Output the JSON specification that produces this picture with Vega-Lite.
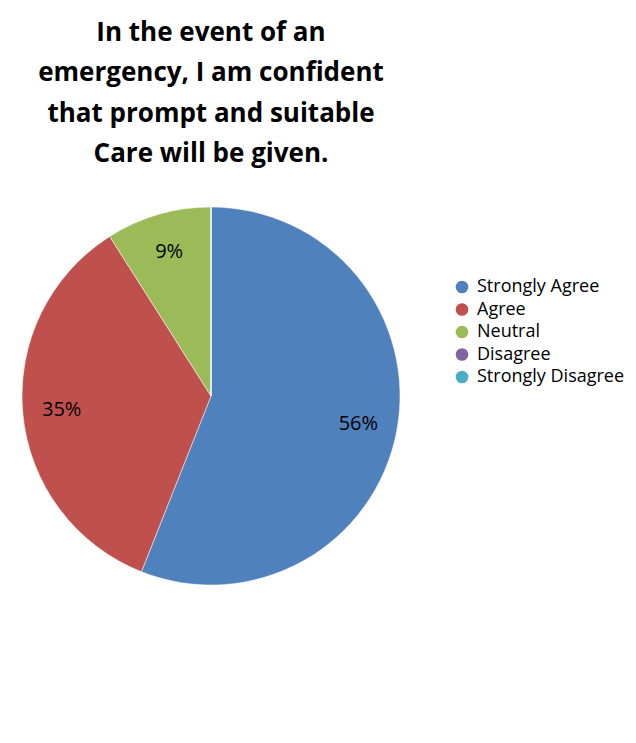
{
  "$schema": "https://vega.github.io/schema/vega-lite/v6.json",
  "autosize": {"type": "none"},
  "width": 378,
  "height": 378,
  "padding": {"left": 22, "top": 207, "right": 236, "bottom": 158},
  "background": "white",
  "title": {
    "text": ["In the event of an", "emergency, I am confident", "that prompt and suitable", "Care will be given."],
    "anchor": "middle",
    "frame": "group",
    "font": "Open Sans",
    "fontSize": 26,
    "fontWeight": "bold",
    "lineHeight": 40.5,
    "color": "black",
    "offset": 39
  },
  "data": {
    "values": [
      {"category": "Strongly Agree", "value": 56, "label": "56%", "rank": 1},
      {"category": "Agree", "value": 35, "label": "35%", "rank": 2},
      {"category": "Neutral", "value": 9, "label": "9%", "rank": 3},
      {"category": "Disagree", "value": 0, "label": "", "rank": 4},
      {"category": "Strongly Disagree", "value": 0, "label": "", "rank": 5}
    ]
  },
  "encoding": {
    "theta": {"field": "value", "type": "quantitative", "stack": true},
    "order": {"field": "rank", "type": "quantitative"},
    "color": {
      "field": "category",
      "type": "nominal",
      "sort": ["Strongly Agree", "Agree", "Neutral", "Disagree", "Strongly Disagree"],
      "scale": {
        "domain": ["Strongly Agree", "Agree", "Neutral", "Disagree", "Strongly Disagree"],
        "range": ["#4F81BD", "#C0504D", "#9BBB59", "#8064A2", "#4BACC6"]
      },
      "legend": {
        "title": null,
        "orient": "none",
        "legendX": 431,
        "legendY": 71,
        "symbolType": "circle",
        "symbolSize": 160,
        "symbolStrokeWidth": 0,
        "labelFont": "Open Sans",
        "labelFontSize": 18,
        "labelColor": "black",
        "rowPadding": 4.5,
        "labelOffset": 6,
        "labelLimit": 300
      }
    }
  },
  "layer": [
    {
      "mark": {"type": "arc", "outerRadius": 189, "stroke": "white", "strokeWidth": 0.5}
    },
    {
      "mark": {"type": "text", "radius": 150, "font": "Open Sans", "fontSize": 20, "color": "black"},
      "encoding": {
        "text": {"field": "label", "type": "nominal"},
        "color": {"value": "black"}
      }
    }
  ],
  "config": {"view": {"stroke": null}}
}
